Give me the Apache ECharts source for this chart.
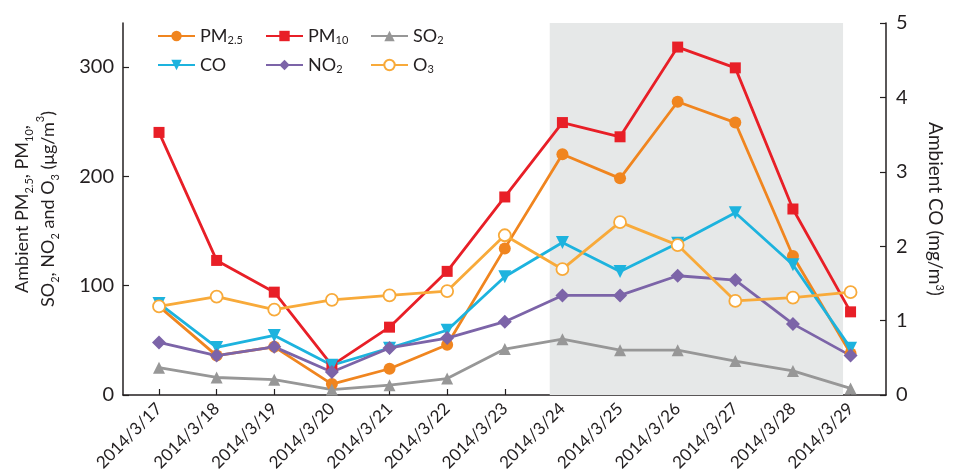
<!DOCTYPE html>
<html>
<head>
<meta charset="utf-8">
<script src="https://cdn.jsdelivr.net/npm/echarts@6/dist/echarts.min.js"></script>
<style>
  html, body { margin: 0; padding: 0; background: #fff; }
  #chart { width: 953px; height: 475px; }
</style>
</head>
<body>
<div id="chart"></div>
<script>
// Daily mean pollutant levels, 17-29 March 2014
const dates = ['2014/3/17','2014/3/18','2014/3/19','2014/3/20','2014/3/21','2014/3/22','2014/3/23',
               '2014/3/24','2014/3/25','2014/3/26','2014/3/27','2014/3/28','2014/3/29'];
const pm25 = [81, 36, 44, 10, 24, 46, 134, 220, 198, 268, 249, 127, 38];
const pm10 = [240, 123, 94, 27, 62, 113, 181, 249, 236, 318, 299, 170, 76];
const so2  = [25, 16, 14, 5, 9, 15, 42, 51, 41, 41, 31, 22, 6];
const co   = [1.23, 0.64, 0.80, 0.40, 0.63, 0.87, 1.59, 2.05, 1.66, 2.04, 2.45, 1.75, 0.63]; // mg/m3
const no2  = [48, 36, 44, 21, 43, 52, 67, 91, 91, 109, 105, 65, 36];
const o3   = [81, 90, 78, 87, 91, 95, 146, 115, 158, 137, 86, 89, 94];
// shaded haze episode, in day-index units
const hazeSpan = [6.78, 11.87];
const leftTicks = [0, 100, 200, 300];

const dayIdx = dates.map((d, i) => i);
const pts = arr => arr.map((v, i) => [i, v]);

const ink = '#231f20';
const font = 'Lato, "Open Sans", sans-serif';

const rich = {
  sub: { fontSize: 11, fontFamily: font, color: ink, verticalAlign: 'bottom', lineHeight: 14 },
  sup: { fontSize: 11, fontFamily: font, color: ink, verticalAlign: 'top', lineHeight: 14 }
};

const legendLabels = {
  'PM2.5': 'PM{sub|2.5}', 'PM10': 'PM{sub|10}', 'SO2': 'SO{sub|2}',
  'CO': 'CO', 'NO2': 'NO{sub|2}', 'O3': 'O{sub|3}'
};

function legendCol(left, names) {
  return {
    orient: 'vertical', left: left, top: 21,
    itemWidth: 37, itemHeight: 13, itemGap: 9,
    data: names,
    formatter: n => legendLabels[n],
    textStyle: { fontSize: 18, fontFamily: font, color: ink, lineHeight: 20, rich: rich }
  };
}

function lineSeries(name, data, color, symbol, size, extra) {
  return Object.assign({
    name: name, type: 'line', data: pts(data),
    symbol: symbol, symbolSize: size,
    lineStyle: { color: color, width: 2.8 },
    itemStyle: { color: color, borderWidth: 0 },
    emphasis: { disabled: true }
  }, extra || {});
}

const chart = echarts.init(document.getElementById('chart'), null, { renderer: 'canvas' });
chart.setOption({
  animation: false,
  backgroundColor: '#fff',
  grid: { left: 123, right: 61, top: 23, bottom: 80 },
  legend: [
    legendCol(152, ['PM2.5', 'CO']),
    legendCol(260, ['PM10', 'NO2']),
    legendCol(365, ['SO2', 'O3'])
  ],
  xAxis: {
    type: 'value', min: -0.625, max: 12.615,
    axisLine: { show: true, onZero: false, lineStyle: { color: ink, width: 1.5 } },
    axisTick: { show: true, inside: true, length: 6, customValues: dayIdx, lineStyle: { color: ink, width: 1.2 } },
    axisLabel: {
      customValues: dayIdx, rotate: 45, margin: 11,
      formatter: v => dates[Math.round(v)] || '',
      fontSize: 17, fontFamily: font, color: ink
    },
    splitLine: { show: false }
  },
  yAxis: [
    {
      type: 'value', min: 0, max: 340, position: 'left',
      axisLine: { show: true, onZero: false, lineStyle: { color: ink, width: 1.5 } },
      axisTick: { show: true, inside: true, length: 6, customValues: leftTicks, lineStyle: { color: ink, width: 1.2 } },
      axisLabel: { customValues: leftTicks, fontSize: 20, fontFamily: font, color: ink, margin: 9 },
      splitLine: { show: false },
      name: 'Ambient PM{sub|2.5}, PM{sub|10},\nSO{sub|2}, NO{sub|2} and O{sub|3} (μg/m{sup|3})',
      nameLocation: 'middle', nameRotate: 90, nameGap: 62,
      nameTextStyle: { fontSize: 18, fontFamily: font, color: ink, lineHeight: 26, rich: rich }
    },
    {
      type: 'value', min: 0, max: 5, interval: 1, position: 'right',
      axisLine: { show: true, onZero: false, lineStyle: { color: ink, width: 1.5 } },
      axisTick: { show: true, inside: true, length: 6, lineStyle: { color: ink, width: 1.2 } },
      axisLabel: { fontSize: 20, fontFamily: font, color: ink, margin: 10 },
      splitLine: { show: false },
      name: 'Ambient CO (mg/m{sup|3})',
      nameLocation: 'middle', nameRotate: -90, nameGap: 40,
      nameTextStyle: { fontSize: 19, fontFamily: font, color: ink, rich: rich }
    }
  ],
  series: [
    {
      name: 'haze', type: 'line', data: [], silent: true, z: 0,
      markArea: {
        silent: true,
        itemStyle: { color: '#e6e8e8' },
        data: [[{ xAxis: hazeSpan[0], yAxis: 0 }, { xAxis: hazeSpan[1], yAxis: 340 }]]
      }
    },
    lineSeries('PM2.5', pm25, '#f0851f', 'circle', 12),
    lineSeries('PM10', pm10, '#e81f27', 'rect', 11),
    lineSeries('SO2', so2, '#979797', 'triangle', 12),
    lineSeries('CO', co, '#1db3de', 'path://M0,0 L10,0 L5,9 Z', 13, { yAxisIndex: 1 }),
    lineSeries('NO2', no2, '#7c64a8', 'diamond', 14),
    lineSeries('O3', o3, '#f8aa3a', 'circle', 12, {
      itemStyle: { color: '#fff', borderColor: '#f8aa3a', borderWidth: 1.8 }
    })
  ]
});
</script>
</body>
</html>
